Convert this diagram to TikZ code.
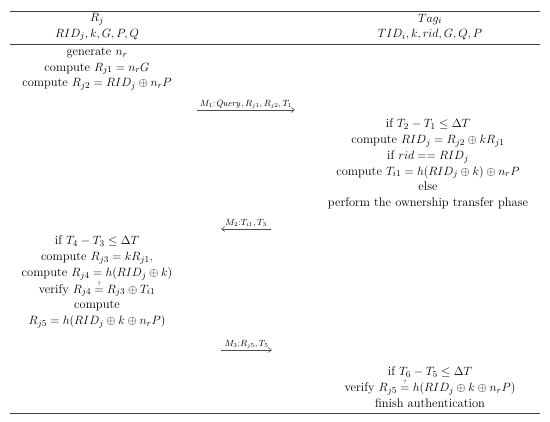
\documentclass[tikz,border=0pt]{standalone}
\usepackage{amsmath,amssymb}
\usetikzlibrary{arrows.meta}
\newcommand{\qeq}{\mathrel{\overset{\scriptscriptstyle ?}{=}}}
\begin{document}
\begin{tikzpicture}[x=1pt,y=-1pt,
  blk/.style={align=center,inner sep=0pt,font=\fontsize{12.5}{15.7}\selectfont,text=black},
  msg/.style={font=\fontsize{9}{10}\selectfont,inner sep=1.2pt,text=black},
  rule/.style={line width=0.9pt,black!75},
  arr/.style={line width=0.5pt,black!70,-{Straight Barb[length=3.5pt,width=5pt]}}]
\useasboundingbox (0,0) rectangle (550,422);
\coordinate (r1a) at (10,11); \coordinate (r1b) at (540,11);
\coordinate (r2a) at (10,44); \coordinate (r2b) at (540,44);
\coordinate (r3a) at (10,413); \coordinate (r3b) at (540,413);
\draw[rule] (r1a) -- (r1b);
\draw[rule] (r2a) -- (r2b);
\draw[rule] (r3a) -- (r3b);
\node[blk] (hl) at (97,27) {$R_j$\\ $RID_j,k,G,P,Q$};
\node[blk] (hr) at (430,27) {$Tag_i$\\ $TID_i,k,rid,G,Q,P$};
\node[blk] (b1) at (97,69) {generate $n_r$\\ compute $R_{j1}=n_rG$\\ compute $R_{j2}=RID_j\oplus n_rP$};
\coordinate (m1s) at (197,110); \coordinate (m1e) at (295,110);
\draw[arr] (m1s) -- node[msg,above] (l1) {$M_1{:}\mathit{Query},R_{j1},R_{j2},T_1$} (m1e);
\node[blk] (b2) at (428,164) {if $T_2-T_1\le\Delta T$\\ compute $RID_j=R_{j2}\oplus kR_{j1}$\\ if $rid==RID_j$\\ compute $T_{i1}=h(RID_j\oplus k)\oplus n_rP$\\ else\\ perform the ownership transfer phase};
\coordinate (m2s) at (271,229); \coordinate (m2e) at (221,229);
\draw[arr] (m2s) -- node[msg,above] (l2) {$M_2{:}T_{i1},T_3$} (m2e);
\node[blk] (b3) at (97,282) {if $T_4-T_3\le\Delta T$\\ compute $R_{j3}=kR_{j1},$\\ compute $R_{j4}=h(RID_j\oplus k)$\\ verify $R_{j4}\qeq R_{j3}\oplus T_{i1}$\\ compute\\ $R_{j5}=h(RID_j\oplus k\oplus n_rP)$};
\coordinate (m3s) at (221,350); \coordinate (m3e) at (272,350);
\draw[arr] (m3s) -- node[msg,above] (l3) {$M_3{:}R_{j5},T_5$} (m3e);
\node[blk] (b4) at (430,387) {if $T_6-T_5\le\Delta T$\\ verify $R_{j5}\qeq h(RID_j\oplus k\oplus n_rP)$\\ finish authentication};
\end{tikzpicture}
\end{document}
